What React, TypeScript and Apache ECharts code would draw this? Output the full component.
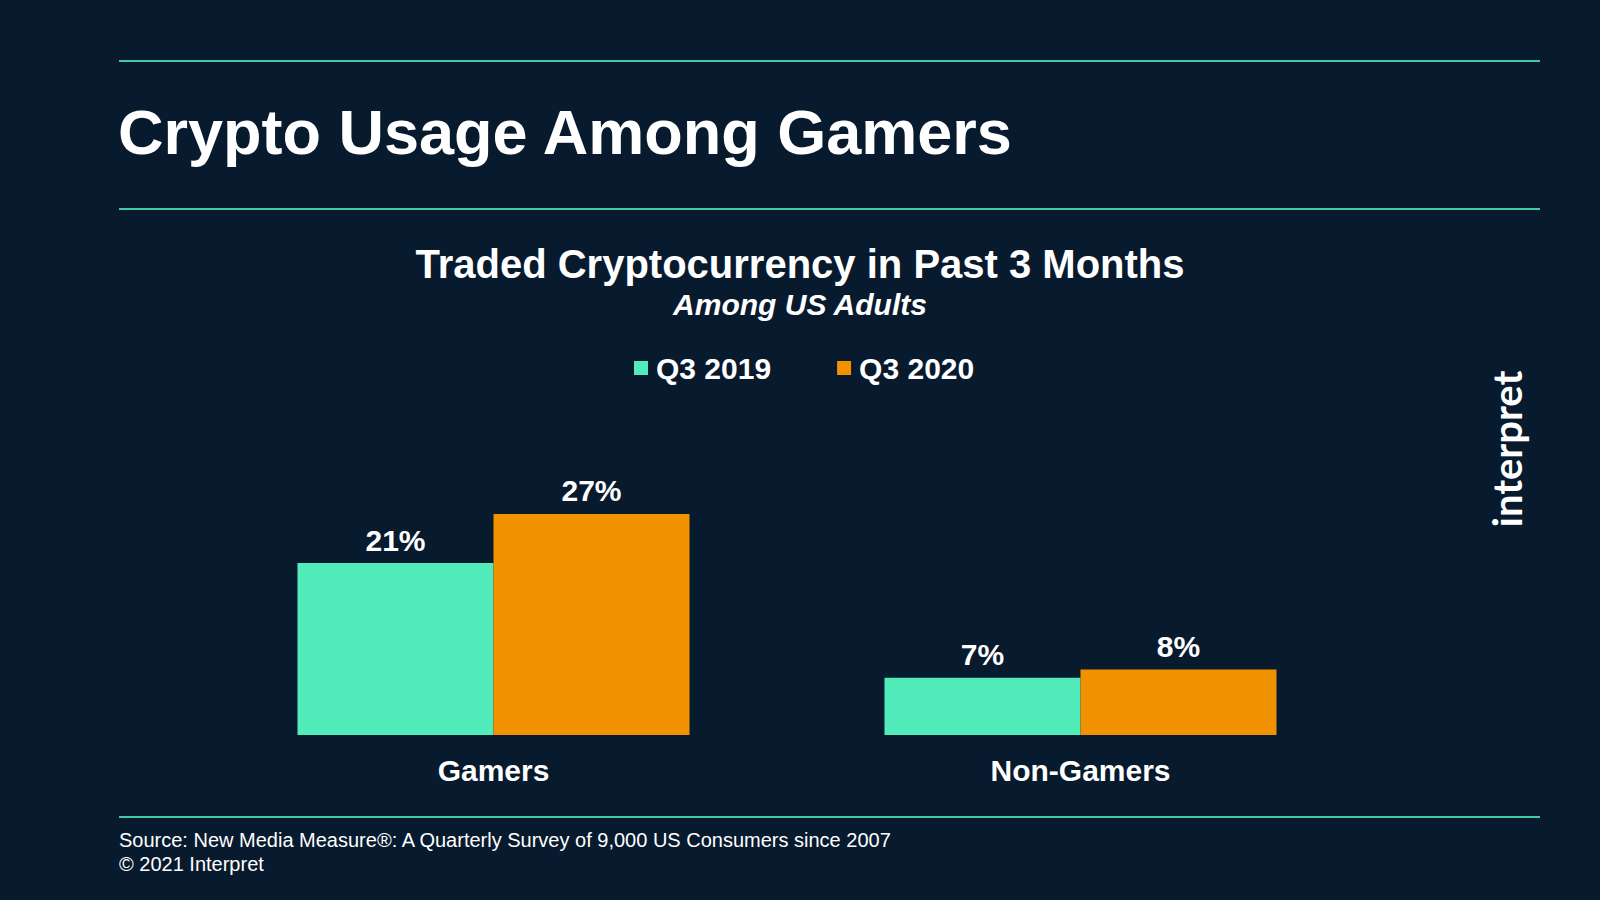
import * as echarts from 'echarts';
import { useEffect, useRef } from 'react';

const categories = ['Gamers', 'Non-Gamers'];
const seriesNames = ['Q3 2019', 'Q3 2020'];
const q3_2019 = [21, 7];
const q3_2020 = [27, 8];

const BG = '#081a2e';
const LINE = '#45c9a5';
const GREEN = '#52ebba';
const ORANGE = '#f29200';
const FONT = '"Liberation Sans", Arial, sans-serif';

const hLine = (y: number) => ({
    type: 'line',
    shape: { x1: 119, y1: y, x2: 1540, y2: y },
    style: { stroke: LINE, lineWidth: 2 },
});

const App = () => {
    const chartRef = useRef<HTMLDivElement>(null);

    useEffect(() => {
        if (!chartRef.current) return;
        const chart = echarts.init(chartRef.current, null, { renderer: 'svg' });

        const barLabel = {
            show: true, position: 'top', distance: 8, formatter: '{c}%',
            color: '#fff', fontSize: 30, fontWeight: 'bold', fontFamily: FONT,
        };

        chart.setOption({
            animation: false,
            backgroundColor: BG,
            textStyle: { fontFamily: FONT },
            graphic: [
                hLine(61),
                hLine(209),
                hLine(817),
                {
                    type: 'text', x: 118, y: 132,
                    style: { text: 'Crypto Usage Among Gamers', fill: '#fff', fontSize: 63, fontWeight: 'bold', fontFamily: FONT, align: 'left', verticalAlign: 'middle' },
                },
                {
                    type: 'text', x: 800, y: 264,
                    style: { text: 'Traded Cryptocurrency in Past 3 Months', fill: '#fff', fontSize: 40, fontWeight: 'bold', fontFamily: FONT, align: 'center', verticalAlign: 'middle' },
                },
                {
                    type: 'text', x: 800, y: 304,
                    style: { text: 'Among US Adults', fill: '#fff', fontSize: 30, fontWeight: 'bold', fontStyle: 'italic', fontFamily: FONT, align: 'center', verticalAlign: 'middle' },
                },
                {
                    type: 'text', x: 119, y: 840,
                    style: { text: 'Source: New Media Measure®: A Quarterly Survey of 9,000 US Consumers since 2007', fill: '#fff', fontSize: 20, fontFamily: FONT, align: 'left', verticalAlign: 'middle' },
                },
                {
                    type: 'text', x: 119, y: 864,
                    style: { text: '© 2021 Interpret', fill: '#fff', fontSize: 20, fontFamily: FONT, align: 'left', verticalAlign: 'middle' },
                },
                {
                    type: 'text', x: 1507, y: 449, rotation: Math.PI / 2,
                    style: { text: 'interpret', fill: '#fff', fontSize: 40, fontWeight: 'bold', fontFamily: 'Lato, sans-serif', align: 'center', verticalAlign: 'middle' },
                },
            ],
            legend: {
                data: seriesNames,
                left: 634,
                top: 353,
                padding: 0,
                icon: 'rect',
                itemWidth: 14,
                itemHeight: 14,
                itemGap: 66,
                textStyle: { color: '#fff', fontSize: 30, fontWeight: 'bold', lineHeight: 30, padding: [0, 0, 0, 3], fontFamily: FONT },
            },
            grid: { left: 200, right: 226, top: 489.4, bottom: 165 },
            xAxis: {
                type: 'category',
                data: categories,
                axisLine: { show: false },
                axisTick: { show: false },
                axisLabel: { color: '#fff', fontSize: 30, fontWeight: 'bold', margin: 20, fontFamily: FONT },
            },
            yAxis: { type: 'value', min: 0, max: 30, show: false, splitLine: { show: false } },
            series: [
                {
                    name: seriesNames[0], type: 'bar', data: q3_2019, barWidth: 196, barGap: '0%',
                    itemStyle: { color: GREEN },
                    label: barLabel,
                },
                {
                    name: seriesNames[1], type: 'bar', data: q3_2020, barWidth: 196, barGap: '0%',
                    itemStyle: { color: ORANGE },
                    label: barLabel,
                },
            ],
        });

        const onResize = () => chart.resize();
        window.addEventListener('resize', onResize);
        return () => {
            window.removeEventListener('resize', onResize);
            chart.dispose();
        };
    }, []);

    return <div ref={chartRef} style={{ position: 'fixed', left: 0, top: 0, width: 1600, height: 900 }} />;
};

export default App;
